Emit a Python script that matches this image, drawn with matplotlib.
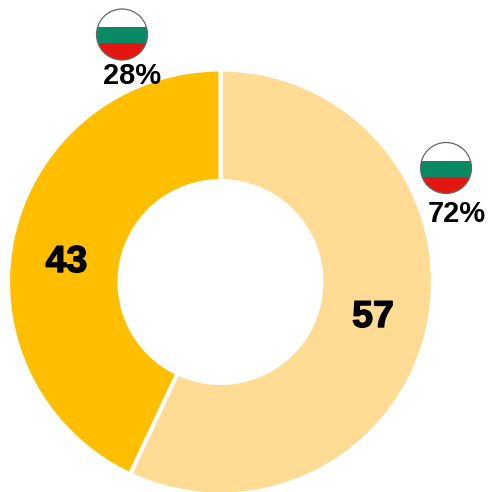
import matplotlib
matplotlib.use("Agg")
import matplotlib.pyplot as plt
import matplotlib.patheffects as pe
from matplotlib.patches import Circle, Rectangle

W, H = 488, 492
segment_values = [57, 43]
segment_colors = ["#FFDB94", "#FFBF00"]
segment_labels = ["57", "43"]
share_labels = ["72%", "28%"]
flag_colors = ["#FFFFFF", "#0A8A64", "#E3170F"]

fig = plt.figure(figsize=(W / 100, H / 100), dpi=100)
ax = fig.add_axes([0, 0, 1, 1])
ax.set_xlim(0, W)
ax.set_ylim(H, 0)
ax.axis("off")

# Pie area: centre (220.5, 282), outer radius 212 so the white edge leaves about 210.5 visible
R = 212.5
cx0, cy0 = 220.5, 282
pie_ax = fig.add_axes([(cx0 - R) / W, 1 - (cy0 + R) / H, 2 * R / W, 2 * R / H])
pie_ax.pie(segment_values, colors=segment_colors, startangle=90, counterclock=False,
           radius=1.0, wedgeprops=dict(width=0.525, edgecolor="white", linewidth=3))
pie_ax.set_xlim(-1, 1)
pie_ax.set_ylim(-1, 1)
pie_ax.set_aspect("equal")
pie_ax.patch.set_alpha(0)

ax.set_zorder(2)
heavy = [pe.withStroke(linewidth=1.0, foreground="black")]
t1 = ax.text(373, 317, segment_labels[0], fontsize=27, fontweight="bold", ha="center", va="center",
             family="Liberation Sans", color="black", path_effects=heavy)
t2 = ax.text(66.5, 262, segment_labels[1], fontsize=27, fontweight="bold", ha="center", va="center",
             family="Liberation Sans", color="black", path_effects=heavy)
ax.text(457, 213.5, share_labels[0], fontsize=21, fontweight="bold", ha="center", va="center",
        family="Liberation Sans", color="black")
ax.text(132.5, 76.5, share_labels[1], fontsize=21, fontweight="bold", ha="center", va="center",
        family="Liberation Sans", color="black")


def flag(cx, cy, r):
    clip = Circle((cx, cy), r, transform=ax.transData)
    tops = [cy - r, cy - r + 0.36 * 2 * r, cy - r + 0.67 * 2 * r, cy + r]
    for i, c in enumerate(flag_colors):
        band = Rectangle((cx - r, tops[i]), 2 * r, tops[i + 1] - tops[i], facecolor=c, edgecolor="none")
        ax.add_patch(band)
        band.set_clip_path(clip)
    ax.add_patch(Circle((cx, cy), r, fill=False, edgecolor="#666666", linewidth=0.9))


flag(122, 34.5, 25.5)
flag(446, 168, 25.5)

fig.savefig("out.png", dpi=100)
